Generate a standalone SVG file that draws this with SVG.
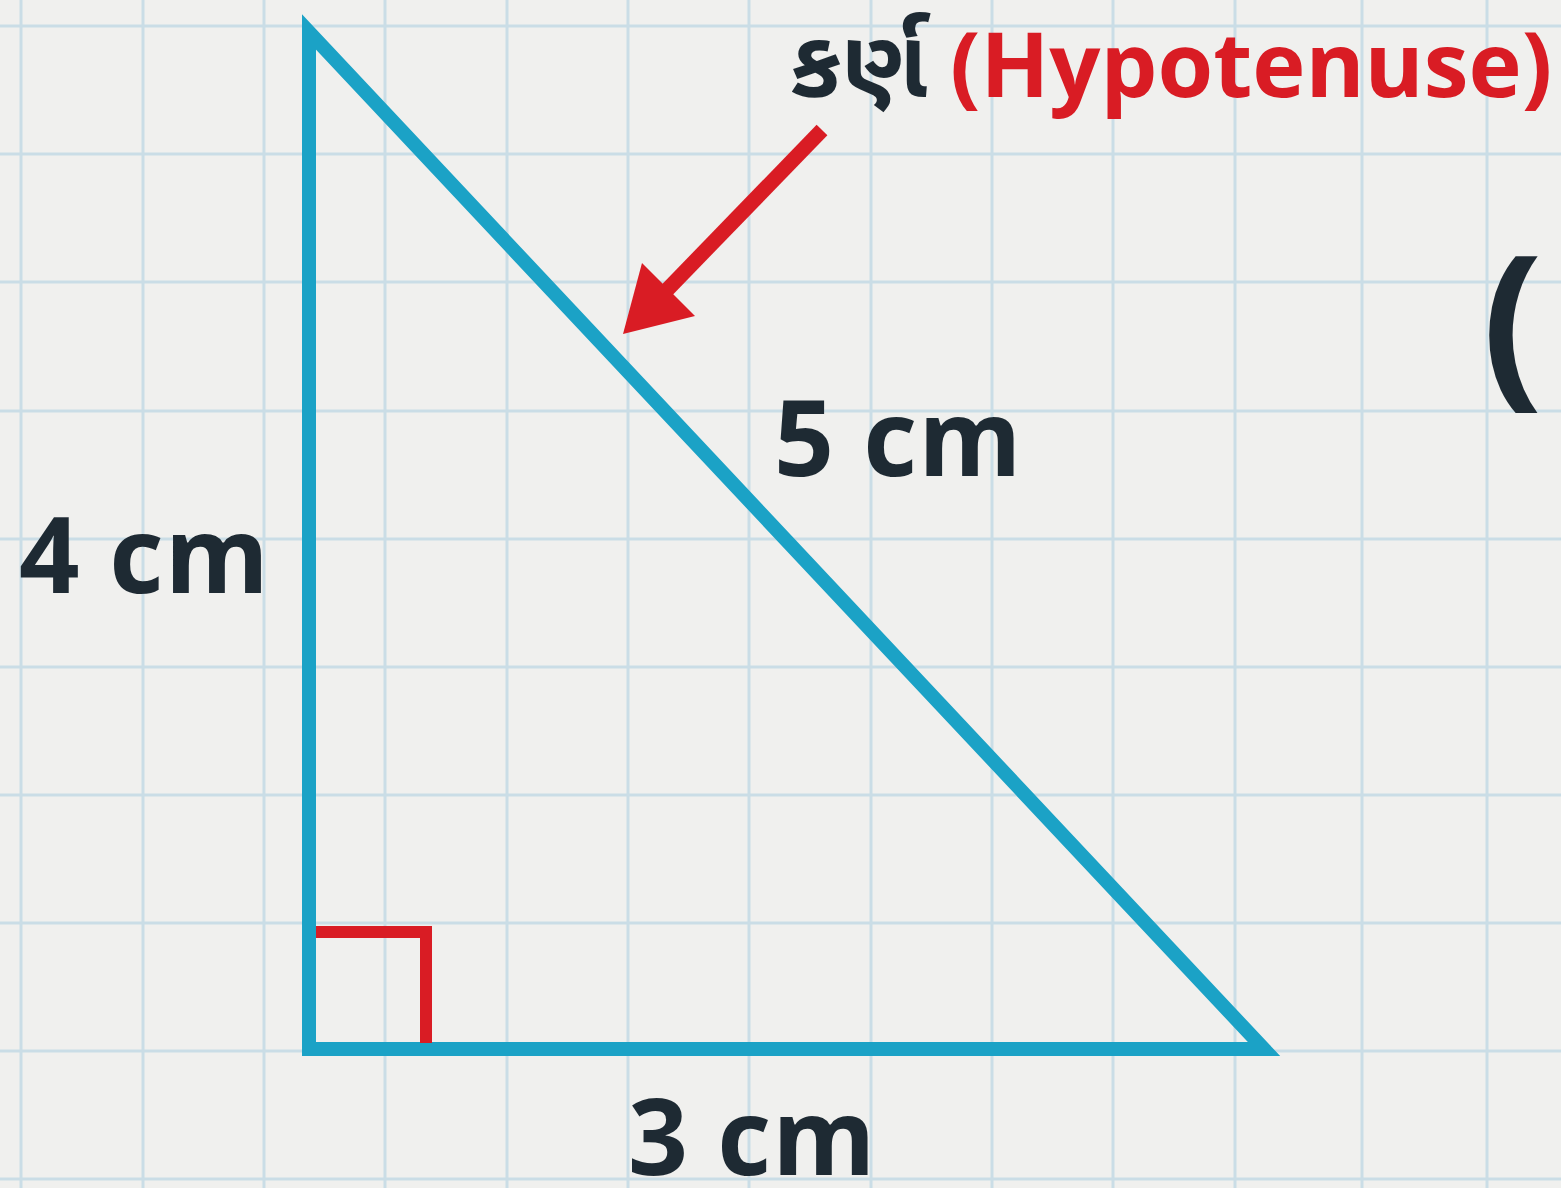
<svg xmlns="http://www.w3.org/2000/svg" width="1561" height="1188" viewBox="0 0 1561 1188">
<style>
.grid line{stroke:#cadde6;stroke-width:3}
.lbl{font-family:"Open Sans","Noto Sans","Liberation Sans",sans-serif;font-weight:700;fill:#1e2a33}
.red{fill:#d91c24}
.guj{font-family:"Noto Sans Gujarati","Noto Sans","Open Sans",sans-serif;font-weight:700;fill:#1e2a33}
</style>
<rect width="1561" height="1188" fill="#f0f0ee"/>
<g id="grid" class="grid">
<line x1="21" y1="0" x2="21" y2="1188"/>
<line x1="143" y1="0" x2="143" y2="1188"/>
<line x1="264" y1="0" x2="264" y2="1188"/>
<line x1="385" y1="0" x2="385" y2="1188"/>
<line x1="507" y1="0" x2="507" y2="1188"/>
<line x1="628" y1="0" x2="628" y2="1188"/>
<line x1="749" y1="0" x2="749" y2="1188"/>
<line x1="871" y1="0" x2="871" y2="1188"/>
<line x1="992" y1="0" x2="992" y2="1188"/>
<line x1="1113" y1="0" x2="1113" y2="1188"/>
<line x1="1235" y1="0" x2="1235" y2="1188"/>
<line x1="1362" y1="0" x2="1362" y2="1188"/>
<line x1="1487" y1="0" x2="1487" y2="1188"/>
<line x1="0" y1="26" x2="1561" y2="26"/>
<line x1="0" y1="154" x2="1561" y2="154"/>
<line x1="0" y1="282" x2="1561" y2="282"/>
<line x1="0" y1="411" x2="1561" y2="411"/>
<line x1="0" y1="539" x2="1561" y2="539"/>
<line x1="0" y1="667" x2="1561" y2="667"/>
<line x1="0" y1="795" x2="1561" y2="795"/>
<line x1="0" y1="923" x2="1561" y2="923"/>
<line x1="0" y1="1051" x2="1561" y2="1051"/>
<line x1="0" y1="1179" x2="1561" y2="1179"/>
</g>
<g id="triangle">
<path d="M309 32 V1049 H1264 Z" fill="none" stroke="#1ba2c6" stroke-width="14" stroke-linejoin="miter"/>
</g>
<g id="right-angle">
<path d="M316 932 H426 V1043" fill="none" stroke="#d91c24" stroke-width="12" stroke-linejoin="miter"/>
</g>
<g id="connectors">
<line x1="822" y1="130" x2="666" y2="291" stroke="#d91c24" stroke-width="15"/>
<polygon points="623,334 642,263 695,316" fill="#d91c24"/>
</g>
<g id="hypotenuse-label">
<text class="guj" x="790" y="97" font-size="95">કર્ણ</text>
<text class="lbl red" x="950" y="97" font-size="90">(Hypotenuse)</text>
</g>
<g id="side-labels">
<text class="lbl" x="774" y="476" font-size="105" letter-spacing="1">5 cm</text>
<text class="lbl" x="19" y="593" font-size="106" letter-spacing="1">4 cm</text>
<text class="lbl" x="628" y="1175" font-size="105" letter-spacing="1">3 cm</text>
<text class="lbl" x="1482" y="385" font-size="180">(</text>
</g>
</svg>
